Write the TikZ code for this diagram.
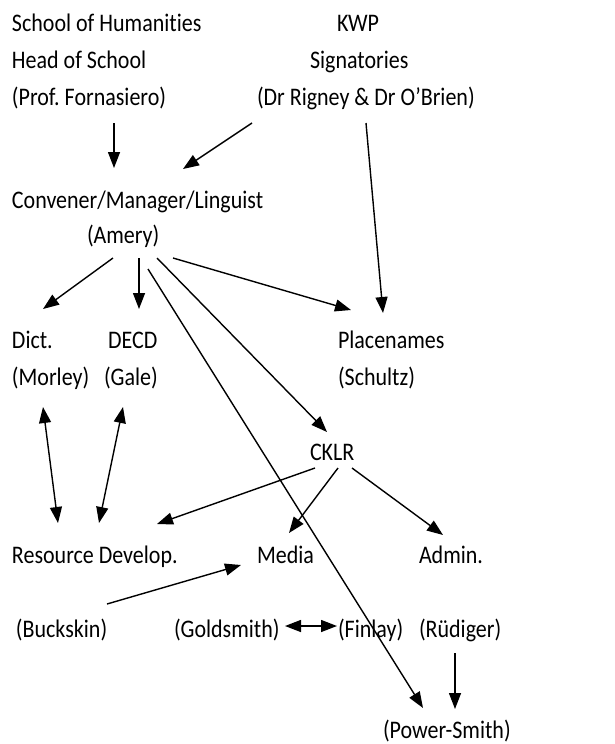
\documentclass[tikz,border=0pt]{standalone}
\usepackage{graphicx}
\usepackage{fontspec}
\setmainfont{Carlito}[Ligatures=NoCommon]
\usetikzlibrary{arrows.meta}
\frenchspacing
\newcommand\vtxt[1]{\scalebox{1}[1.15]{#1}}
\begin{document}
\begin{tikzpicture}[x=1pt,y=-1pt,
  lbl/.style={anchor=base west,inner sep=0pt,outer sep=0pt,font=\fontsize{22}{26}\selectfont},
  arr/.style={line width=1.4pt,-{Triangle[length=16pt,width=12pt]}},
  darr/.style={line width=1.4pt,{Triangle[length=16pt,width=12pt]}-{Triangle[length=16pt,width=12pt]}}]
\useasboundingbox[fill=white] (0,0) rectangle (614,744);
% texts
\node[lbl] (soh) at (12,31) {\vtxt{School of Humanities}};
\node[lbl] (hos) at (12,68) {\vtxt{Head of School}};
\node[lbl] (forn) at (12,105) {\vtxt{(Prof. Fornasiero)}};
\node[lbl] (kwp) at (337,31) {\vtxt{KWP}};
\node[lbl] (sig) at (310,68) {\vtxt{Signatories}};
\node[lbl] (rig) at (257,105) {\vtxt{(Dr Rigney \& Dr O’Brien)}};
\node[lbl] (conv) at (12,208) {\vtxt{Convener/Manager/Linguist}};
\node[lbl] (amery) at (87,243) {\vtxt{(Amery)}};
\node[lbl] (dict) at (12,348) {\vtxt{Dict.}};
\node[lbl] (morley) at (12,385) {\vtxt{(Morley)}};
\node[lbl] (decd) at (108,348) {\vtxt{DECD}};
\node[lbl] (gale) at (104,385) {\vtxt{(Gale)}};
\node[lbl] (place) at (338,348) {\vtxt{Placenames}};
\node[lbl] (schultz) at (338,385) {\vtxt{(Schultz)}};
\node[lbl] (cklr) at (310,460) {\vtxt{CKLR}};
\node[lbl] (res) at (12,563) {\vtxt{Resource Develop.}};
\node[lbl] (media) at (257,563) {\vtxt{Media}};
\node[lbl] (admin) at (419,563) {\vtxt{Admin.}};
\node[lbl] (buck) at (16,637) {\vtxt{(Buckskin)}};
\node[lbl] (gold) at (174,637) {\vtxt{(Goldsmith)}};
\node[lbl] (fin) at (338,637) {\vtxt{(Finlay)}};
\node[lbl] (rud) at (419,637) {\vtxt{(Rüdiger)}};
\node[lbl] (pow) at (383,738) {\vtxt{(Power-Smith)}};
% connector ends
\coordinate (a1) at (114,123); \coordinate (b1) at (114,168);
\coordinate (a2) at (252,123); \coordinate (b2) at (183,169);
\coordinate (a3) at (366,123); \coordinate (b3) at (383,313);
\coordinate (a4) at (113,258); \coordinate (b4) at (43,309);
\coordinate (a5) at (139,258); \coordinate (b5) at (139,309);
\coordinate (a6) at (148,269); \coordinate (b6) at (423,708);
\coordinate (a7) at (157,258); \coordinate (b7) at (327,432);
\coordinate (a8) at (173,258); \coordinate (b8) at (351,310);
\coordinate (a9) at (43,407); \coordinate (b9) at (58,523);
\coordinate (a10) at (123,407); \coordinate (b10) at (99,523);
\coordinate (a11) at (315,468); \coordinate (b11) at (157,524);
\coordinate (a12) at (338,468); \coordinate (b12) at (289,533);
\coordinate (a13) at (352,468); \coordinate (b13) at (443,535);
\coordinate (a14) at (107,604); \coordinate (b14) at (241,565);
\coordinate (a15) at (285,626); \coordinate (b15) at (337,626);
\coordinate (a16) at (455,653); \coordinate (b16) at (455,709);
\draw[arr] (a1) -- (b1);
\draw[arr] (a2) -- (b2);
\draw[arr] (a3) -- (b3);
\draw[arr] (a4) -- (b4);
\draw[arr] (a5) -- (b5);
\draw[arr] (a6) -- (b6);
\draw[arr] (a7) -- (b7);
\draw[arr] (a8) -- (b8);
\draw[darr] (a9) -- (b9);
\draw[darr] (a10) -- (b10);
\draw[arr] (a11) -- (b11);
\draw[arr] (a12) -- (b12);
\draw[arr] (a13) -- (b13);
\draw[arr] (a14) -- (b14);
\draw[darr] (a15) -- (b15);
\draw[arr] (a16) -- (b16);
\end{tikzpicture}
\end{document}
